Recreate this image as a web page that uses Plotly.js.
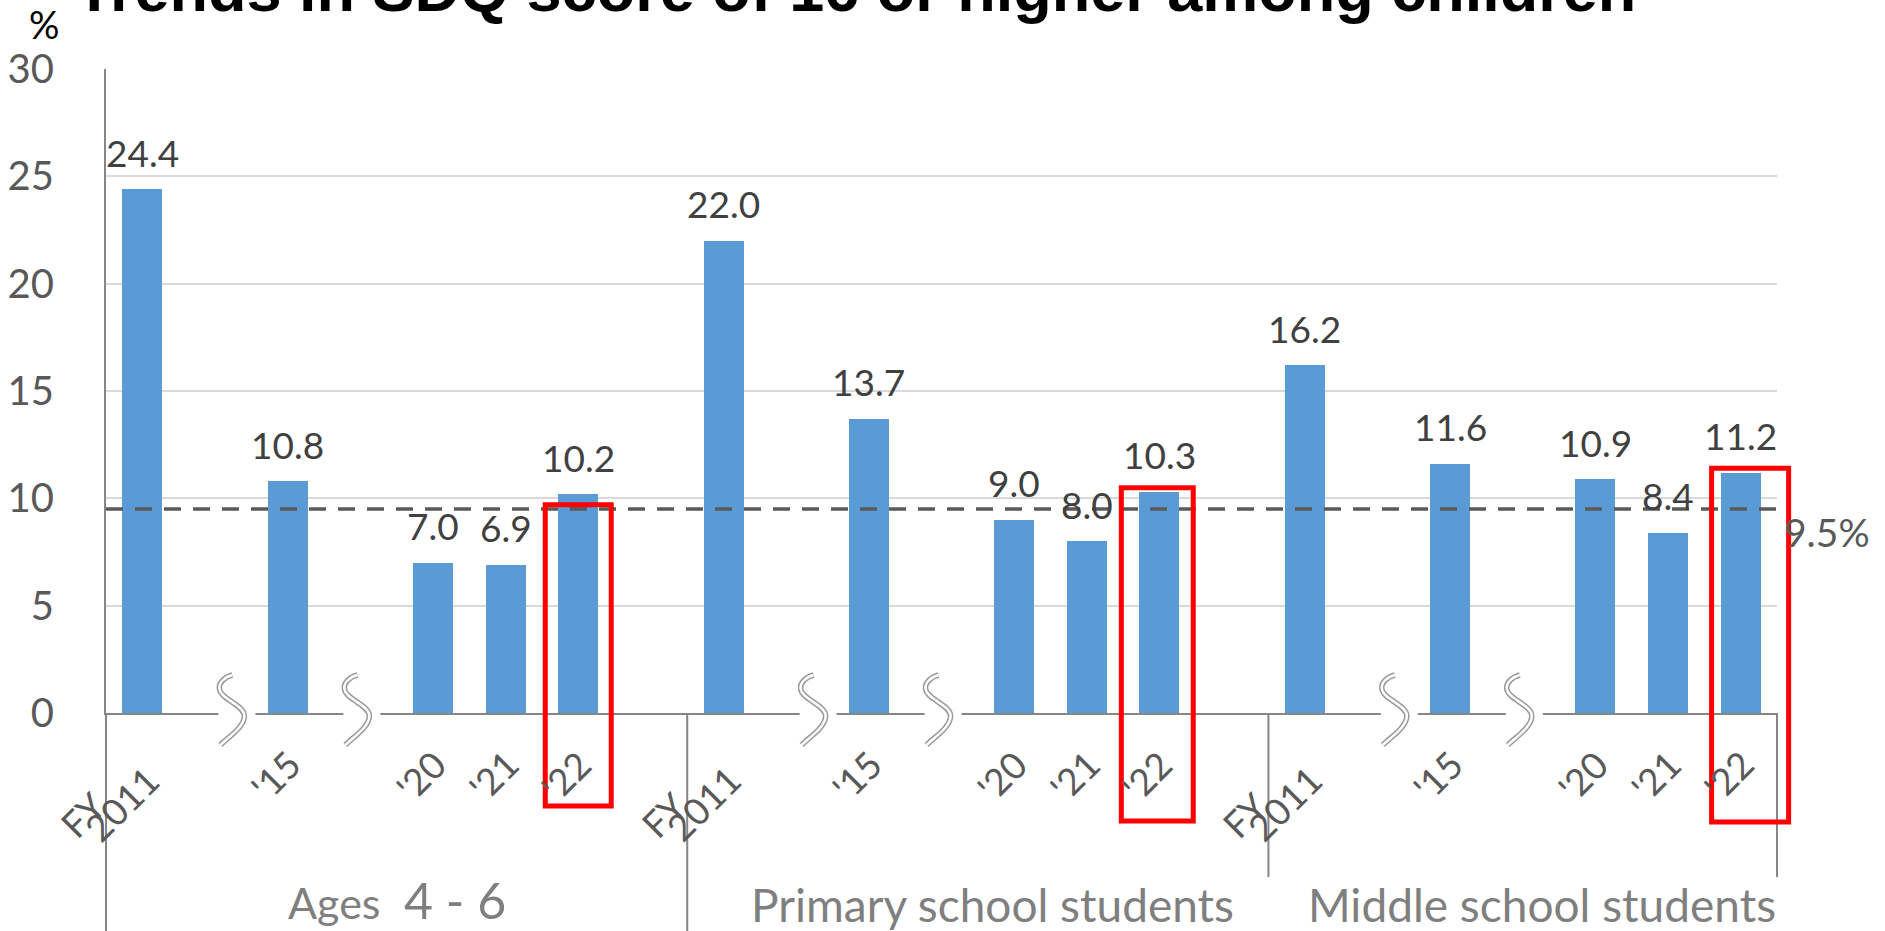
<!DOCTYPE html>
<html><head><meta charset="utf-8">
<script src="https://cdn.plot.ly/plotly-3.0.1.min.js"></script>
<style>html,body{margin:0;padding:0;background:#fff;overflow:hidden}#chart{width:1885px;height:931px}</style>
</head><body><div id="chart"></div>
<script>
// ---------------- data ----------------
const chartTitle = "Trends in SDQ score of 16 or higher among children";
const yUnit = "%";
const groups = ["Ages 4 - 6", "Primary school students", "Middle school students"];
const years = [2011, 2015, 2020, 2021, 2022];
const yearLabels = ["FY 2011", "'15", "'20", "'21", "'22"];
const ages4to6 = [24.4, 10.8, 7.0, 6.9, 10.2];
const primarySchool = [22.0, 13.7, 9.0, 8.0, 10.3];
const middleSchool = [16.2, 11.6, 10.9, 8.4, 11.2];
const benchmark = 9.5;
const benchmarkLabel = "9.5%";
const highlightYear = 2022;
const yTicks = [0, 5, 10, 15, 20, 25, 30];

// ---------------- layout / style ----------------
const W = 1885, H = 931;
const M = {l: 106, r: 108, t: 69, b: 218};
const plotW = W - M.l - M.r, plotH = H - M.t - M.b;
const yMax = 30;
const FONT = 'Lato, "Open Sans", sans-serif';
const barColor = '#5b9bd5';
const axisColor = '#868686';
const breakNudge = [0.24, -0.04];
const groupLabelNudge = [0, 0.2, -0.23];
const groupLabelShift = [-187, -191, -191];
const separatorDepth = [218, 218, 164, 164];
const hlNudge = [0, -0.03, 0.13], hlHalf = [0.454, 0.495, 0.53], hlPad = [-0.5, 0.19, 0.2], hlDepth = [93, 108, 109];

const seriesList = [ages4to6, primarySchool, middleSchool];

// compressed (broken) year positions inside a group
const pos = [0];
for (let i = 1; i < years.length; i++) pos.push(pos[i - 1] + (years[i] - years[i - 1] > 1 ? 2 : 1));
const lastPos = pos[pos.length - 1];
const groupSpan = lastPos + 2;
const xRange = [-0.5, (groups.length - 1) * groupSpan + lastPos + 0.5];
const xSpan = xRange[1] - xRange[0];
const slotPx = plotW / xSpan;
const toPaperX = x => (x - xRange[0]) / xSpan;

const bx = [], by = [];
seriesList.forEach((s, g) => s.forEach((v, i) => { bx.push(g * groupSpan + pos[i]); by.push(v); }));

const traces = [{
  type: 'bar', x: bx, y: by, width: 0.55,
  marker: {color: barColor, line: {width: 0}},
  hoverinfo: 'skip', showlegend: false
}];

// benchmark dashed line
const extendPx = 58;
traces.push({
  type: 'scatter', mode: 'lines', x: [xRange[0], xRange[1] + extendPx / slotPx], y: [benchmark, benchmark],
  line: {color: '#595959', width: 3.5, dash: '17px,12px'}, cliponaxis: false, hoverinfo: 'skip', showlegend: false
});

const annotations = [];
// data labels
bx.forEach((x, k) => annotations.push({
  x: x, y: by[k], xref: 'x', yref: 'y', text: by[k].toFixed(1), showarrow: false,
  xanchor: 'center', yanchor: 'middle', yshift: 37,
  font: {family: FONT, size: 37, color: '#404040'}
}));
// x labels
const xFont = {family: FONT, size: 37, color: '#595959'};
groups.forEach((gname, g) => {
  yearLabels.forEach((lab, i) => {
    const x = g * groupSpan + pos[i];
    const parts = lab.split(' ');
    if (parts.length > 1) {
      annotations.push({x: x, y: 0, xref: 'x', yref: 'y', text: parts[0], showarrow: false, textangle: -45,
        xanchor: 'center', yanchor: 'middle', xshift: -60, yshift: -101, font: xFont});
      annotations.push({x: x, y: 0, xref: 'x', yref: 'y', text: parts[1], showarrow: false, textangle: -45,
        xanchor: 'center', yanchor: 'middle', xshift: -21, yshift: -90, font: xFont});
    } else {
      annotations.push({x: x, y: 0, xref: 'x', yref: 'y', text: lab, showarrow: false, textangle: -45,
        xanchor: 'center', yanchor: 'middle', xshift: -13, yshift: -62, font: xFont});
    }
  });
  // group label
  let txt = gname;
  const m = gname.match(/^(\D+?) (\d.*)$/);
  if (m) txt = '<span style="font-size:43px">' + m[1] + '</span>\u00a0\u00a0<span style="font-size:50px">' + m[2] + '</span>';
  annotations.push({x: g * groupSpan + (groupSpan - 1) / 2 + groupLabelNudge[g], y: 0, xref: 'x', yref: 'y',
    text: txt, showarrow: false, xanchor: 'center', yanchor: 'middle', yshift: groupLabelShift[g],
    font: {family: FONT, size: 46, color: '#7f7f7f'}});
});
// benchmark label
annotations.push({x: 1 + 50 / plotW, y: benchmark, xref: 'paper', yref: 'y', text: benchmarkLabel, showarrow: false,
  xanchor: 'center', yanchor: 'middle', yshift: -23, font: {family: FONT, size: 39, color: '#595959'}});
// unit
annotations.push({x: -62 / plotW, y: 1 + 45 / plotH, xref: 'paper', yref: 'paper', text: yUnit, showarrow: false,
  xanchor: 'center', yanchor: 'middle', font: {family: FONT, size: 38, color: '#000000'}});
// title
annotations.push({x: -33 / plotW, y: 1 + 43 / plotH, xref: 'paper', yref: 'paper', text: '<b>' + chartTitle + '</b>', showarrow: false,
  xanchor: 'left', yanchor: 'bottom', font: {family: '"Liberation Sans", Arial, sans-serif', size: 63, color: '#000000'}});

const shapes = [];
// separators below the axis
const seps = [];
for (let g = 0; g <= groups.length; g++) seps.push(g < groups.length ? g * groupSpan - 0.5 : xRange[1]);
seps.forEach((x, k) => shapes.push({type: 'line', xref: 'paper', yref: 'paper', ysizemode: 'pixel', yanchor: 0,
  x0: toPaperX(x), x1: toPaperX(x), y0: 0, y1: -separatorDepth[k], line: {color: axisColor, width: 2}, layer: 'above'}));
// axis breaks
const sPath = 'M 0,38 C -8,36 -14,30 -13,24 C -12,14 12,8 12,-3 C 12,-14 -4,-24 -12,-32';
groups.forEach((gname, g) => {
  let b = 0;
  for (let i = 1; i < years.length; i++) {
    if (years[i] - years[i - 1] > 1) {
      const xa = g * groupSpan + pos[i - 1] + 1 + breakNudge[b++];
      const common = {xref: 'x', yref: 'paper', xsizemode: 'pixel', ysizemode: 'pixel', xanchor: xa, yanchor: 0, layer: 'above'};
      shapes.push(Object.assign({type: 'rect', x0: -14, x1: 23, y0: -4, y1: 4, fillcolor: '#ffffff', line: {width: 0}}, common));
      shapes.push(Object.assign({type: 'path', path: sPath, line: {color: '#9a9a9a', width: 5.5}}, common));
      shapes.push(Object.assign({type: 'path', path: sPath, line: {color: '#ffffff', width: 2.5}}, common));
    }
  }
});
// highlight rectangles around the latest year
const hIdx = years.indexOf(highlightYear);
seriesList.forEach((s, g) => {
  const cx = g * groupSpan + pos[hIdx] + hlNudge[g];
  shapes.push({type: 'rect', xref: 'paper', yref: 'paper', layer: 'above',
    x0: toPaperX(cx - hlHalf[g]), x1: toPaperX(cx + hlHalf[g]), y0: -hlDepth[g] / plotH, y1: (s[hIdx] + hlPad[g]) / yMax,
    fillcolor: 'rgba(0,0,0,0)', line: {color: '#ff0000', width: 5}});
});

const layout = {
  width: W, height: H, margin: M, paper_bgcolor: '#ffffff', plot_bgcolor: '#ffffff',
  showlegend: false, bargap: 0,
  xaxis: {type: 'linear', range: xRange, showgrid: false, zeroline: false, showticklabels: false, ticks: '',
    showline: true, linecolor: axisColor, linewidth: 2, layer: 'below traces', fixedrange: true},
  yaxis: {range: [0, yMax], tickvals: yTicks, ticktext: yTicks.map(String), showgrid: true, gridcolor: '#d9d9d9', gridwidth: 2,
    zeroline: false, showline: true, linecolor: axisColor, linewidth: 2, ticks: 'outside', ticklen: 42, tickcolor: 'rgba(0,0,0,0)',
    tickfont: {family: FONT, size: 40, color: '#595959'}, layer: 'below traces', fixedrange: true},
  annotations: annotations, shapes: shapes
};
Plotly.newPlot('chart', traces, layout, {staticPlot: true, displayModeBar: false});
</script></body></html>
